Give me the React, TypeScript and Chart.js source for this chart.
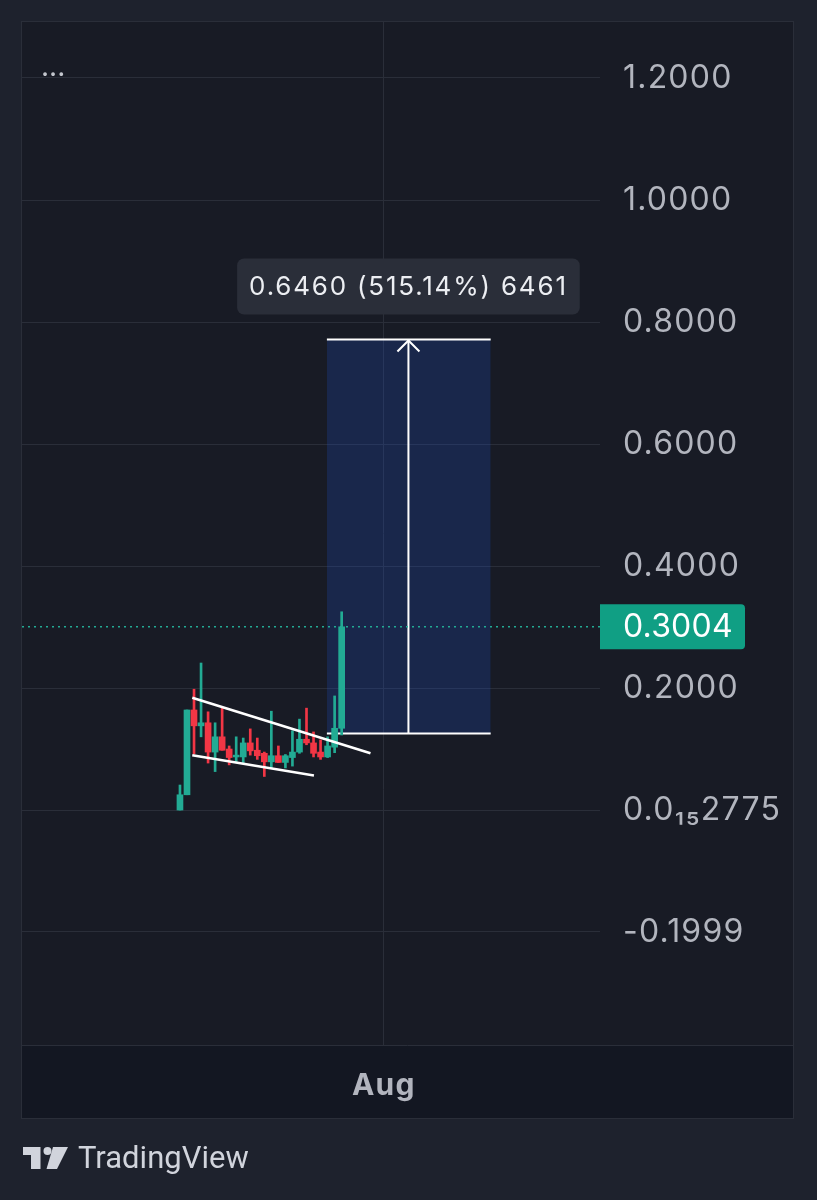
import React, { useEffect, useRef } from 'react';
import { Chart, registerables } from 'chart.js';

Chart.register(...registerables);

// ---- Data (daily candles, Jul 3 .. Jul 26) ----
const candleDates = ['Jul 3','Jul 4','Jul 5','Jul 6','Jul 7','Jul 8','Jul 9','Jul 10','Jul 11','Jul 12','Jul 13','Jul 14','Jul 15','Jul 16','Jul 17','Jul 18','Jul 19','Jul 20','Jul 21','Jul 22','Jul 23','Jul 24','Jul 25','Jul 26'];
const candleX = [0,1,2,3,4,5,6,7,8,9,10,11,12,13,14,15,16,17,18,19,20,21,22,23];
const candleOpen  = [0.000,0.025,0.164,0.138,0.143,0.095,0.120,0.100,0.087,0.087,0.110,0.098,0.093,0.079,0.089,0.078,0.086,0.095,0.116,0.110,0.095,0.087,0.103,0.134];
const candleHigh  = [0.041,0.164,0.198,0.241,0.161,0.143,0.167,0.105,0.120,0.118,0.133,0.118,0.095,0.162,0.105,0.091,0.130,0.149,0.167,0.128,0.115,0.120,0.187,0.325];
const candleLow   = [0.000,0.025,0.092,0.120,0.077,0.063,0.098,0.074,0.079,0.077,0.090,0.083,0.055,0.069,0.078,0.069,0.072,0.093,0.107,0.087,0.083,0.086,0.094,0.123];
const candleClose = [0.025,0.164,0.138,0.143,0.095,0.120,0.098,0.086,0.090,0.110,0.097,0.089,0.079,0.089,0.078,0.089,0.095,0.116,0.110,0.093,0.087,0.105,0.134,0.3004];

const lastPrice = 0.3004;
const lastPriceLabel = '0.3004';

// falling wedge trendlines
const upperTrendX = [1.75, 27.1];
const upperTrendY = [0.184, 0.093];
const lowerTrendX = [1.75, 19.06];
const lowerTrendY = [0.0897, 0.0566];

// measure tool
const measureX = [20.9, 44.2];
const measureArrowX = 32.5;
const measureLow = 0.1254;
const measureHigh = 0.7714;
const measureLabel = '0.6460 (515.14%) 6461';

// axes
const xRange = [-22.47, 59.75];
const xTickValues = [29];
const xTickLabels = ['Aug'];
const yRange = [-0.3852, 1.2918];
const yTickValues = [-0.1999, 2.775e-16, 0.2, 0.4, 0.6, 0.8, 1.0, 1.2];
const yTickLabels = ['-0.1999', '0.0\u2081\u20852775', '0.2000', '0.4000', '0.6000', '0.8000', '1.0000', '1.2000'];

const UP = '#22ab94';
const DOWN = '#f23645';
const GRID = '#2a2e39';
const TEXT = '#b2b5be';
const FONT = 'Inter, "Noto Sans", sans-serif';

const tvPlugin = {
  id: 'tvDecor',
  beforeDraw(chart: any) {
    const { ctx, width, height, chartArea: ca } = chart;
    const yS = chart.scales.y;
    const xS = chart.scales.x;
    ctx.save();
    ctx.fillStyle = '#1e222d';
    ctx.fillRect(0, 0, width, height);
    ctx.fillStyle = '#181b25';
    ctx.fillRect(ca.left, ca.top, yS.right - ca.left, xS.bottom - ca.top);
    ctx.fillStyle = '#131722';
    ctx.fillRect(ca.left, ca.bottom, yS.right - ca.left, xS.bottom - ca.bottom);
    ctx.restore();
    // axis label tracking (reset before datasets)
    ctx.letterSpacing = '1.2px';
  },
  beforeDatasetsDraw(chart: any) {
    chart.ctx.letterSpacing = '0px';
  },
  afterDraw(chart: any) {
    const { ctx, chartArea: ca } = chart;
    const yS = chart.scales.y;
    const xS = chart.scales.x;
    ctx.save();
    ctx.letterSpacing = '0px';
    // panel borders
    ctx.strokeStyle = GRID;
    ctx.lineWidth = 1;
    ctx.strokeRect(ca.left - 0.5, ca.top - 0.5, yS.right - ca.left + 1, xS.bottom - ca.top + 1);
    ctx.beginPath();
    ctx.moveTo(ca.left, ca.bottom + 0.5);
    ctx.lineTo(yS.right, ca.bottom + 0.5);
    ctx.stroke();

    // "..." indicator
    ctx.fillStyle = '#c3c6cd';
    ctx.font = `28px ${FONT}`;
    ctx.textAlign = 'left';
    ctx.textBaseline = 'alphabetic';
    ctx.fillText('...', ca.left + 19, ca.top + 54);

    // arrow head
    const ax = xS.getPixelForValue(measureArrowX);
    const ay = yS.getPixelForValue(measureHigh);
    ctx.strokeStyle = '#ffffff';
    ctx.lineWidth = 2;
    ctx.beginPath();
    ctx.moveTo(ax - 11, ay + 12);
    ctx.lineTo(ax, ay + 1);
    ctx.lineTo(ax + 11, ay + 12);
    ctx.stroke();

    // measure label box
    ctx.font = `26px ${FONT}`;
    ctx.letterSpacing = '1.8px';
    const tw = ctx.measureText(measureLabel).width;
    const bw = tw + 24;
    const bh = 56;
    const bx = ax - bw / 2;
    const by = ay - 25 - bh;
    ctx.fillStyle = '#2a2e39';
    ctx.beginPath();
    ctx.roundRect(bx, by, bw, bh, 7);
    ctx.fill();
    ctx.fillStyle = '#eceef2';
    ctx.textAlign = 'left';
    ctx.textBaseline = 'middle';
    ctx.fillText(measureLabel, bx + 12, by + bh / 2 + 1);

    // last price tag
    const py = yS.getPixelForValue(lastPrice);
    ctx.fillStyle = '#109f84';
    ctx.beginPath();
    ctx.roundRect(ca.right, py - 22.5, 145, 45, [0, 4, 4, 0]);
    ctx.fill();
    ctx.fillStyle = '#ffffff';
    ctx.font = `32px ${FONT}`;
    ctx.letterSpacing = '0.2px';
    ctx.textAlign = 'left';
    ctx.textBaseline = 'middle';
    ctx.fillText(lastPriceLabel, ca.right + 23, py + 1);
    ctx.restore();
  },
};

function TvLogo() {
  return (
    <div style={{ position: 'absolute', left: 22, top: 1143, display: 'flex', alignItems: 'flex-start' }}>
      <svg width="48" height="24" viewBox="0 0 48 24" style={{ marginTop: 4 }}>
        <path d="M1 0 H18.5 V22 H9 V8 H1 Z" fill="#d1d4dc" />
        <circle cx="25.5" cy="4" r="4" fill="#d1d4dc" />
        <path d="M31 0 H46 L35 22 H24.5 Z" fill="#d1d4dc" />
      </svg>
      <span style={{ marginLeft: 8, font: '31px Roboto, sans-serif', lineHeight: '30px', color: '#d1d4dc' }}>TradingView</span>
    </div>
  );
}

export default function App() {
  const ref = useRef<HTMLCanvasElement | null>(null);

  useEffect(() => {
    if (!ref.current) return;
    const wicks = candleX.map((x, i) => ({ x, y: [candleLow[i], candleHigh[i]] }));
    const bodies = candleX.map((x, i) => ({ x, y: [candleOpen[i], candleClose[i]] }));
    const colors = candleX.map((_, i) => (candleClose[i] >= candleOpen[i] ? UP : DOWN));

    const line = (pts: { x: number; y: number }[], extra: any = {}) => ({
      type: 'line',
      data: pts,
      borderColor: '#ffffff',
      borderWidth: 2,
      pointRadius: 0,
      tension: 0,
      fill: false,
      ...extra,
    });

    const chart = new Chart(ref.current, {
      type: 'bar',
      data: {
        labels: candleDates,
        datasets: [
          line(measureX.map((x) => ({ x, y: measureHigh })), {
            fill: { value: measureLow },
            backgroundColor: 'rgba(30,90,230,0.2)',
            order: 10,
          }),
          line(measureX.map((x) => ({ x, y: measureLow })), { order: 9 }),
          line([{ x: measureArrowX, y: measureLow }, { x: measureArrowX, y: measureHigh }], { order: 9 }),
          line(xRange.map((x) => ({ x, y: lastPrice })), {
            borderColor: UP,
            borderWidth: 1.5,
            borderDash: [2, 4],
            order: 8,
          }),
          {
            type: 'bar',
            data: wicks,
            backgroundColor: colors,
            barThickness: 2,
            grouped: false,
            order: 3,
          },
          {
            type: 'bar',
            data: bodies,
            backgroundColor: colors,
            barThickness: 6,
            grouped: false,
            order: 2,
          },
          line(upperTrendX.map((x, i) => ({ x, y: upperTrendY[i] })), { borderWidth: 2.5, order: 0 }),
          line(lowerTrendX.map((x, i) => ({ x, y: lowerTrendY[i] })), { borderWidth: 2.5, order: 0 }),
        ] as any,
      },
      options: {
        animation: false,
        responsive: false,
        devicePixelRatio: 1,
        layout: { padding: { left: 22, top: 22, right: 24, bottom: 82 } },
        plugins: { legend: { display: false }, tooltip: { enabled: false } },
        events: [],
        scales: {
          x: {
            type: 'linear',
            min: xRange[0],
            max: xRange[1],
            offset: false,
            afterBuildTicks: (s: any) => {
              s.ticks = xTickValues.map((v) => ({ value: v }));
            },
            afterFit: (s: any) => {
              s.height = 73;
              s.paddingLeft = 0;
              s.paddingRight = 0;
            },
            ticks: {
              callback: (_v: any, i: number) => xTickLabels[i],
              color: TEXT,
              font: { family: FONT, size: 30, weight: 'bold' },
              padding: 23,
              maxRotation: 0,
              autoSkip: false,
            },
            grid: { color: GRID, lineWidth: 1, drawTicks: false, offset: false },
            border: { display: false },
          },
          y: {
            type: 'linear',
            position: 'right',
            min: yRange[0],
            max: yRange[1],
            afterBuildTicks: (s: any) => {
              s.ticks = yTickValues.map((v) => ({ value: v }));
            },
            afterFit: (s: any) => {
              s.width = 193;
              s.paddingTop = 0;
              s.paddingBottom = 0;
            },
            ticks: {
              callback: (_v: any, i: number) => yTickLabels[i],
              color: TEXT,
              font: { family: FONT, size: 32 },
              padding: 23,
              autoSkip: false,
            },
            grid: { color: GRID, lineWidth: 1, drawTicks: false },
            border: { display: false },
          },
        },
      } as any,
      plugins: [tvPlugin],
    });
    return () => chart.destroy();
  }, []);

  return (
    <div style={{ position: 'absolute', left: 0, top: 0, width: 817, height: 1200, background: '#1e222d' }}>
      <canvas ref={ref} width={817} height={1200} style={{ display: 'block' }} />
      <TvLogo />
    </div>
  );
}
